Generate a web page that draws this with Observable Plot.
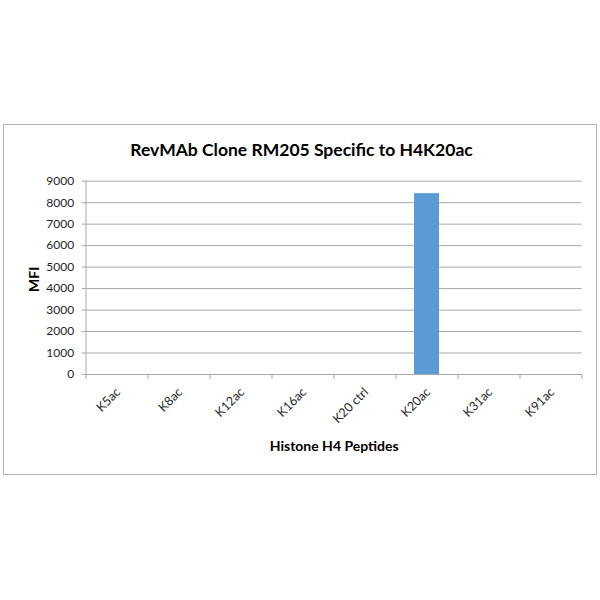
<!DOCTYPE html>
<html>
<head>
<meta charset="utf-8">
<script src="https://cdn.jsdelivr.net/npm/d3@7"></script>
<script src="https://cdn.jsdelivr.net/npm/@observablehq/plot@0.6"></script>
<style>
  html, body { margin: 0; padding: 0; background: #fff; }
  #wrap { position: relative; width: 600px; height: 600px; }
  #border { position: absolute; left: 3px; top: 124px; width: 592px; height: 349px; border: 1px solid #b4b4b4; pointer-events: none; }
</style>
</head>
<body>
<div id="wrap"><div id="border"></div></div>
<script>
const categories = ["K5ac", "K8ac", "K12ac", "K16ac", "K20 ctrl", "K20ac", "K31ac", "K91ac"];
const mfi = [0, 0, 0, 0, 0, 8420, 0, 0];
const yTicks = [0, 1000, 2000, 3000, 4000, 5000, 6000, 7000, 8000, 9000];
const titleText = "RevMAb Clone RM205 Specific to H4K20ac";
const xTitle = "Histone H4 Peptides";
const yTitle = "MFI";

const data = categories.map((c, i) => ({name: c, value: mfi[i]}));

const W = 600, H = 600;
const mL = 85.7, mR = 18.3, mT = 180.7, mB = 226;
const step = (W - mL - mR) / categories.length;
const font = "Lato, 'Open Sans', sans-serif";
const gray = "#a8a8a8";
const txt = "#1e1e1e";

const chart = Plot.plot({
  width: W,
  height: H,
  marginLeft: mL,
  marginRight: mR,
  marginTop: mT,
  marginBottom: mB,
  style: {fontFamily: font, fontSize: "12px", color: txt, background: "transparent"},
  x: {domain: categories, paddingInner: 0.6, paddingOuter: 0.3, align: 0.5, axis: null},
  y: {domain: [0, 9000], axis: null},
  marks: [
    Plot.gridY(yTicks.filter(d => d > 0), {stroke: gray, strokeOpacity: 1, strokeWidth: 1}),
    Plot.axisY({ticks: yTicks, tickSize: 4, tickPadding: 8, tickFormat: d => String(d), stroke: gray, strokeOpacity: 1, fill: txt, fontSize: 12, label: null}),
    Plot.barY(data, {x: "name", y: "value", fill: "#5b9bd5"}),
    Plot.ruleY([0], {stroke: gray, strokeWidth: 1}),
    // y axis line at left boundary of first band
    Plot.ruleX([categories[0]], {x: d => d, dx: -step / 2, y1: 0, y2: 9000, stroke: gray}),
    // x ticks at band boundaries
    Plot.ruleX(categories, {x: d => d, dx: -step / 2, y1: 0, y2: 0, insetBottom: -5, stroke: gray}),
    Plot.ruleX([categories[categories.length - 1]], {x: d => d, dx: step / 2, y1: 0, y2: 0, insetBottom: -5, stroke: gray}),
    // rotated x labels
    Plot.text(categories, {x: d => d, y: () => 0, text: d => d, rotate: -45, textAnchor: "end", lineAnchor: "bottom", dx: 4, dy: 18.5, fontSize: 12.5, fill: txt}),
    // titles
    Plot.text([titleText], {frameAnchor: "top", text: d => d, textAnchor: "middle", dx: -32.7, dy: -(mT - 155.5), lineAnchor: "bottom", fontSize: 17.5, fontWeight: "bold", fill: "#000"}),
    Plot.text([xTitle], {frameAnchor: "bottom", text: d => d, textAnchor: "middle", dy: 76.5, lineAnchor: "bottom", fontSize: 14, fontWeight: "bold", fill: "#000"}),
    Plot.text([yTitle], {frameAnchor: "left", text: d => d, textAnchor: "middle", rotate: -90, dx: -47.4, dy: 1.5, lineAnchor: "bottom", fontSize: 14, fontWeight: "bold", fill: "#000"})
  ]
});
chart.style.position = "absolute";
chart.style.left = "0";
chart.style.top = "0";
document.getElementById("wrap").appendChild(chart);
</script>
</body>
</html>
